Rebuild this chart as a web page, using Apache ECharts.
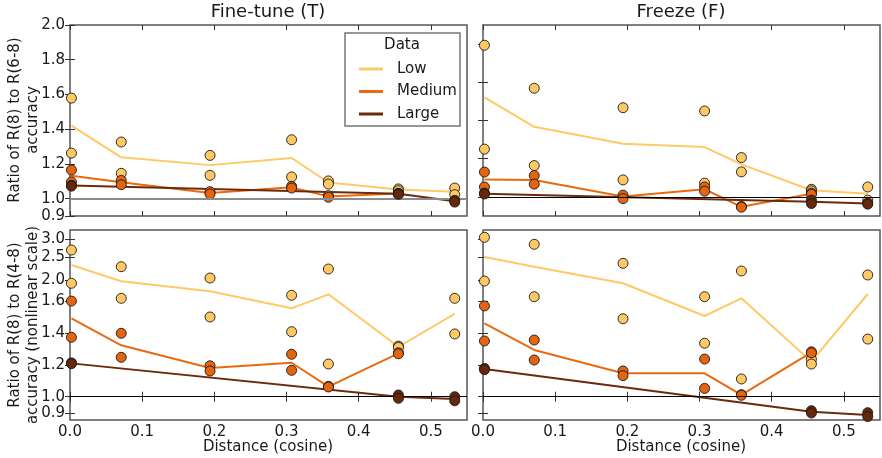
<!DOCTYPE html>
<html>
<head>
<meta charset="utf-8">
<script src="https://cdn.jsdelivr.net/npm/echarts@6/dist/echarts.min.js"></script>
<style>
  html, body { margin: 0; padding: 0; background: #fff; }
  #chart { width: 882px; height: 458px; }
</style>
</head>
<body>
<div id="chart"></div>
<script>
// ---------------- data ----------------
const DIST = [0.002, 0.071, 0.194, 0.307, 0.358, 0.455, 0.533];
const X_TICKS = [0.0, 0.1, 0.2, 0.3, 0.4, 0.5];
const TOP_LEFT_Y_TICKS = [0.9, 1.0, 1.2, 1.4, 1.6, 1.8, 2.0];
const TOP_RIGHT_Y_TICKS = [1.0, 1.2, 1.4, 1.6, 1.8];
const BOTTOM_Y_TICKS = [0.9, 1.0, 1.2, 1.4, 1.6, 2.0, 2.5, 3.0];

// Fine-tune, R(8)/R(6-8)
const FT6_LOW_A = [1.579, 1.326, 1.249, 1.339, 1.102, 1.056, 1.061];
const FT6_LOW_B = [1.262, 1.146, 1.134, 1.125, 1.084, 1.046, 1.023];
const FT6_LOW_MEAN = [1.420, 1.238, 1.193, 1.234, 1.093, 1.052, 1.040];
const FT6_MED_A = [1.165, 1.105, 1.040, 1.071, 1.017, 1.031, null];
const FT6_MED_B = [1.096, 1.080, 1.027, 1.061, 1.008, 1.026, null];
const FT6_MED_MEAN = [1.132, 1.094, 1.033, 1.065, 1.013, 1.029, null];
const FT6_LRG_A = [1.077, null, null, null, null, 1.030, 0.990];
const FT6_LRG_B = [1.072, null, null, null, null, 1.025, 0.980];
const FT6_LRG_MEAN = [1.075, null, null, null, null, 1.028, 0.985];

// Freeze, R(8)/R(6-8)
const FZ6_LOW_A = [1.794, 1.569, 1.467, 1.450, 1.206, 1.040, 1.052];
const FZ6_LOW_B = [1.250, 1.164, 1.089, 1.072, 1.131, 1.032, 0.983];
const FZ6_LOW_MEAN = [1.521, 1.367, 1.278, 1.261, 1.170, 1.035, 1.017];
const FZ6_MED_A = [1.130, 1.112, 1.009, 1.052, 0.950, 1.020, null];
const FZ6_MED_B = [1.052, 1.067, 0.991, 1.030, 0.946, 1.014, null];
const FZ6_MED_MEAN = [1.091, 1.088, 1.002, 1.040, 0.948, 1.017, null];
const FZ6_LRG_A = [1.020, null, null, null, null, 0.983, 0.968];
const FZ6_LRG_B = [1.015, null, null, null, null, 0.965, 0.962];
const FZ6_LRG_MEAN = [1.017, null, null, null, null, 0.974, 0.965];

// Fine-tune, R(8)/R(4-8)
const FT4_LOW_A = [2.694, 2.289, 2.043, 1.713, 2.239, 1.320, 1.656];
const FT4_LOW_B = [1.938, 1.656, 1.502, 1.410, 1.208, 1.312, 1.396];
const FT4_LOW_MEAN = [2.326, 1.976, 1.788, 1.556, 1.731, 1.316, 1.522];
const FT4_MED_A = [1.604, 1.400, 1.197, 1.269, 1.066, 1.278, null];
const FT4_MED_B = [1.375, 1.250, 1.164, 1.168, 1.062, 1.272, null];
const FT4_MED_MEAN = [1.494, 1.325, 1.183, 1.216, 1.064, 1.275, null];
const FT4_LRG_A = [1.215, null, null, null, null, 1.011, 1.000];
const FT4_LRG_B = [1.210, null, null, null, null, 0.990, 0.975];
const FT4_LRG_MEAN = [1.212, null, null, null, null, 1.000, 0.986];

// Freeze, R(8)/R(4-8)
const FZ4_LOW_A = [3.047, 2.853, 2.363, 1.686, 2.196, 1.238, 2.109];
const FZ4_LOW_B = [1.980, 1.686, 1.491, 1.338, 1.113, 1.208, 1.364];
const FZ4_LOW_MEAN = [2.500, 2.289, 1.938, 1.508, 1.656, 1.223, 1.737];
const FZ4_MED_A = [1.571, 1.358, 1.164, 1.239, 1.013, 1.284, null];
const FZ4_MED_B = [1.352, 1.233, 1.134, 1.053, 1.009, 1.278, null];
const FZ4_MED_MEAN = [1.4625, 1.296, 1.149, 1.149, 1.011, 1.281, null];
const FZ4_LRG_A = [1.180, null, null, null, null, 0.914, 0.902];
const FZ4_LRG_B = [1.172, null, null, null, null, 0.900, 0.878];
const FZ4_LRG_MEAN = [1.176, null, null, null, null, 0.907, 0.888];

// ---------------- nonlinear scale (bottom row) ----------------
// scale coordinate of each bottom tick value (defines the nonlinear axis)
const NL_POS = [-16.3, 0, 31.4, 63.4, 95.4, 116.7, 139.7, 157.7];
function nl(v) {
  const t = BOTTOM_Y_TICKS, p = NL_POS;
  let i = 0;
  if (v <= t[0]) i = 0;
  else if (v >= t[t.length - 1]) i = t.length - 2;
  else { while (!(v >= t[i] && v <= t[i + 1])) i++; }
  return p[i] + (v - t[i]) / (t[i + 1] - t[i]) * (p[i + 1] - p[i]);
}
function nlLabel(pos) {
  let best = 0;
  for (let i = 1; i < NL_POS.length; i++) if (Math.abs(NL_POS[i] - pos) < Math.abs(NL_POS[best] - pos)) best = i;
  return BOTTOM_Y_TICKS[best].toFixed(1);
}
const ident = v => v;

// ---------------- styles ----------------
const COLORS = {
  Low:    { fill: '#fec864', line: '#fec967' },
  Medium: { fill: '#e5640f', line: '#ea6a12' },
  Large:  { fill: '#66280a', line: '#6b2a0a' }
};
const FONT = 'DejaVu Sans';
const TXT = '#1a1a1a';
const FS = 15;

const GRIDS = [
  { left: 70, top: 25, width: 397, height: 191 },
  { left: 483, top: 25, width: 397, height: 191 },
  { left: 70, top: 230, width: 397, height: 190 },
  { left: 483, top: 230, width: 397, height: 190 }
];

const PANELS = [
  { tf: ident, min: 0.9, max: 2.0, ticks: TOP_LEFT_Y_TICKS, labels: true, ref: { color: '#8c8c8c', width: 2 },
    sets: { Low: [FT6_LOW_A, FT6_LOW_B, FT6_LOW_MEAN], Medium: [FT6_MED_A, FT6_MED_B, FT6_MED_MEAN], Large: [FT6_LRG_A, FT6_LRG_B, FT6_LRG_MEAN] } },
  { tf: ident, min: 0.9, max: 1.9, ticks: TOP_RIGHT_Y_TICKS, labels: false, ref: { color: '#000', width: 1 },
    sets: { Low: [FZ6_LOW_A, FZ6_LOW_B, FZ6_LOW_MEAN], Medium: [FZ6_MED_A, FZ6_MED_B, FZ6_MED_MEAN], Large: [FZ6_LRG_A, FZ6_LRG_B, FZ6_LRG_MEAN] } },
  { tf: nl, min: -23.3, max: 166.7, ticks: BOTTOM_Y_TICKS, labels: true, ref: { color: '#000', width: 1 }, nonlinear: true,
    sets: { Low: [FT4_LOW_A, FT4_LOW_B, FT4_LOW_MEAN], Medium: [FT4_MED_A, FT4_MED_B, FT4_MED_MEAN], Large: [FT4_LRG_A, FT4_LRG_B, FT4_LRG_MEAN] } },
  { tf: nl, min: -23.3, max: 166.7, ticks: BOTTOM_Y_TICKS, labels: false, ref: { color: '#000', width: 1 }, nonlinear: true,
    sets: { Low: [FZ4_LOW_A, FZ4_LOW_B, FZ4_LOW_MEAN], Medium: [FZ4_MED_A, FZ4_MED_B, FZ4_MED_MEAN], Large: [FZ4_LRG_A, FZ4_LRG_B, FZ4_LRG_MEAN] } }
];

// ---------------- build option ----------------
const xAxes = [], yAxes = [], series = [];
const tickStyle = { inside: true, length: 5, lineStyle: { color: '#333', width: 1 } };

PANELS.forEach((p, gi) => {
  const bottomRow = gi >= 2;
  ['bottom', 'top'].forEach(pos => {
    xAxes.push({
      gridIndex: gi, type: 'value', position: pos, min: 0, max: 0.55,
      axisLine: { show: false }, splitLine: { show: false },
      axisTick: Object.assign({ customValues: X_TICKS }, tickStyle),
      axisLabel: {
        show: pos === 'bottom' && bottomRow, customValues: X_TICKS,
        formatter: v => v.toFixed(1), fontSize: FS, fontFamily: FONT, color: TXT, margin: 5
      }
    });
  });
  const tickPos = p.ticks.map(p.tf);
  ['left', 'right'].forEach(pos => {
    yAxes.push({
      gridIndex: gi, type: 'value', position: pos, min: p.min, max: p.max,
      axisLine: { show: false }, splitLine: { show: false },
      axisTick: Object.assign({ customValues: tickPos }, tickStyle),
      axisLabel: {
        show: pos === 'left' && p.labels, customValues: tickPos,
        formatter: p.nonlinear ? nlLabel : (v => v.toFixed(1)),
        fontSize: FS, fontFamily: FONT, color: TXT, margin: 5
      }
    });
  });

  const xi = gi * 2, yi = gi * 2;
  // mean lines
  ['Low', 'Medium', 'Large'].forEach(name => {
    const m = p.sets[name][2];
    const data = [];
    DIST.forEach((x, i) => { if (m[i] !== null) data.push([x, p.tf(m[i])]); });
    series.push({
      type: 'line', name, xAxisIndex: xi, yAxisIndex: yi, data,
      showSymbol: false, symbol: 'none', z: 2, silent: true,
      lineStyle: { color: COLORS[name].line, width: 2 },
      itemStyle: { color: COLORS[name].line }
    });
  });
  // points
  ['Low', 'Medium', 'Large'].forEach((name, k) => {
    const [a, b] = p.sets[name];
    const data = [];
    DIST.forEach((x, i) => {
      if (a[i] !== null) data.push([x, p.tf(a[i])]);
      if (b[i] !== null) data.push([x, p.tf(b[i])]);
    });
    const s = {
      type: 'scatter', name, xAxisIndex: xi, yAxisIndex: yi, data,
      symbol: 'circle', symbolSize: 10, z: 3 + k, clip: false,
      itemStyle: { color: COLORS[name].fill, borderColor: '#1a1a1a', borderWidth: 0.9, opacity: 1 }
    };
    if (k === 0) {
      s.markLine = {
        silent: true, symbol: 'none', animation: false,
        label: { show: false },
        lineStyle: { color: p.ref.color, width: p.ref.width, type: 'solid' },
        data: [{ yAxis: p.tf(1.0) }]
      };
    }
    series.push(s);
  });
});

const option = {
  animation: false,
  backgroundColor: '#fff',
  grid: GRIDS.map(g => Object.assign({ show: true, borderColor: '#555', borderWidth: 1.5, backgroundColor: 'transparent' }, g)),
  xAxis: xAxes,
  yAxis: yAxes,
  series,
  legend: {
    left: 354, top: 56, orient: 'vertical', icon: 'rect', itemWidth: 24, itemHeight: 3, itemGap: 6.5,
    data: ['Low', 'Medium', 'Large'].map(n => ({ name: n, itemStyle: { color: COLORS[n].line } })),
    textStyle: { fontSize: FS, fontFamily: FONT, color: TXT, padding: [0, 0, 0, 9], lineHeight: 16 },
    selectedMode: false
  },
  graphic: [
    { type: 'rect', z: 1, shape: { x: 345, y: 33, width: 115, height: 93 },
      style: { fill: '#fff', stroke: '#777', lineWidth: 1.5 } },
    { type: 'text', z: 5, x: 402, y: 45,
      style: { text: 'Data', font: '15px "DejaVu Sans"', fill: TXT, align: 'center', verticalAlign: 'middle' } },
    { type: 'text', x: 268, y: 12,
      style: { text: 'Fine-tune (T)', font: '18px "DejaVu Sans"', fill: TXT, align: 'center', verticalAlign: 'middle' } },
    { type: 'text', x: 681, y: 12,
      style: { text: 'Freeze (F)', font: '18px "DejaVu Sans"', fill: TXT, align: 'center', verticalAlign: 'middle' } },
    { type: 'text', x: 24, y: 120, rotation: Math.PI / 2,
      style: { text: 'Ratio of R(8) to R(6-8)\naccuracy', font: '15px "DejaVu Sans"', lineHeight: 18, fill: TXT, align: 'center', verticalAlign: 'middle' } },
    { type: 'text', x: 24, y: 325, rotation: Math.PI / 2,
      style: { text: 'Ratio of R(8) to R(4-8)\naccuracy (nonlinear scale)', font: '15px "DejaVu Sans"', lineHeight: 18, fill: TXT, align: 'center', verticalAlign: 'middle' } },
    { type: 'text', x: 268, y: 447,
      style: { text: 'Distance (cosine)', font: '15px "DejaVu Sans"', fill: TXT, align: 'center', verticalAlign: 'middle' } },
    { type: 'text', x: 681, y: 447,
      style: { text: 'Distance (cosine)', font: '15px "DejaVu Sans"', fill: TXT, align: 'center', verticalAlign: 'middle' } }
  ]
};

const chart = echarts.init(document.getElementById('chart'), null, { renderer: 'canvas' });
chart.setOption(option);
</script>
</body>
</html>
